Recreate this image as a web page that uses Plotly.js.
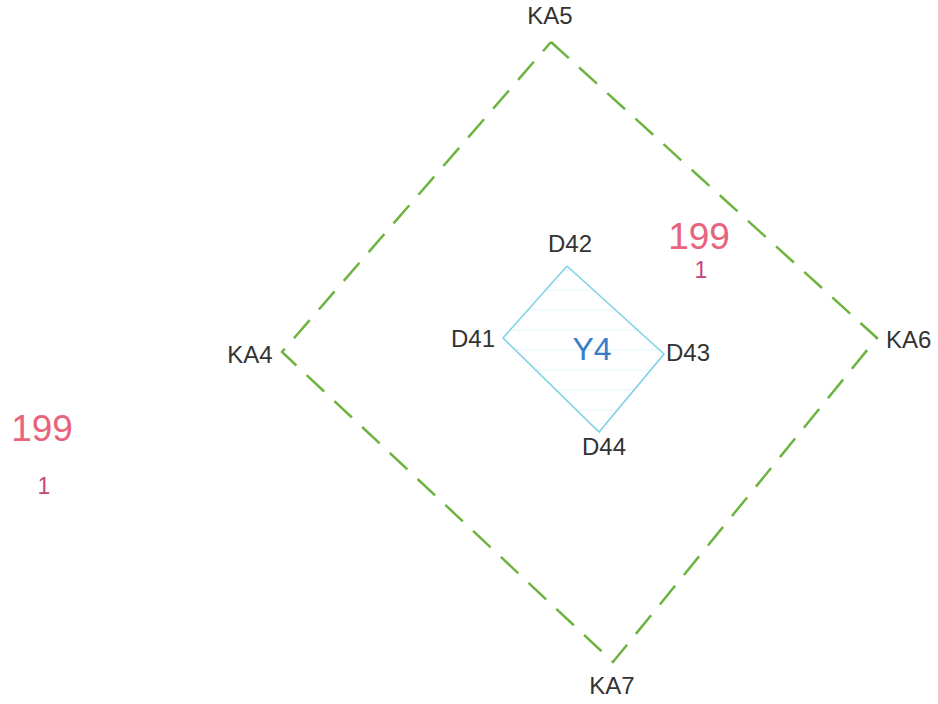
<!DOCTYPE html>
<html><head><meta charset="utf-8">
<script src="https://cdn.plot.ly/plotly-3.0.1.min.js"></script>
<style>html,body{margin:0;padding:0;background:#fff}#plot{width:938px;height:704px}</style>
</head><body><div id="plot"></div>
<script>
// Outer boundary (KA4..KA7), closed
const outerNames = ["KA5", "KA6", "KA7", "KA4"];
const outerX = [551, 877, 613, 282, 551];
const outerY = [42, 338, 662, 352, 42];
// Inner parcel (D41..D44), closed
const innerNames = ["D42", "D43", "D44", "D41"];
const innerX = [567, 664, 599, 503, 567];
const innerY = [266, 354, 432, 338, 266];
// Point labels
const labelText = ["KA5", "KA6", "KA7", "KA4", "D42", "D43", "D44", "D41"];
const labelX = [550, 886, 612, 250, 570, 666, 604, 473];
const labelY = [18, 342, 688, 357, 246, 355, 449, 341];
// Parcel name
const parcelName = ["Y4"];
const parcelX = [592];
const parcelY = [352];
// Lot numbers
const lotNum = ["199", "199"];
const lotX = [699, 42];
const lotY = [240, 432];
const lotSub = ["1", "1"];
const lotSubX = [701, 44];
const lotSubY = [272, 488];

const font = "Arial, 'Liberation Sans', Helvetica, sans-serif";
const traces = [
  {x: outerX, y: outerY, mode: "lines", line: {color: "#6db33f", width: 2.5, dash: "24px,14px"}, hoverinfo: "skip"},
  {x: innerX, y: innerY, mode: "lines", fill: "toself", fillcolor: "rgba(255,255,255,0)",
   fillpattern: {shape: "-", fgcolor: "rgba(170,222,234,0.45)", bgcolor: "rgba(255,255,255,0)", size: 20, solidity: 0.04},
   line: {color: "#7fd3e6", width: 1.6}, hoverinfo: "skip"},
  {x: labelX, y: labelY, text: labelText, mode: "text",
   textposition: labelText.map(t => (t === "KA6" || t === "D43") ? "middle right" : "middle center"),
   textfont: {family: font, size: 24, color: "#333333"}, hoverinfo: "skip"},
  {x: parcelX, y: parcelY, text: parcelName, mode: "text", textposition: "middle center",
   textfont: {family: font, size: 32, color: "#3b7cc6"}, hoverinfo: "skip"},
  {x: lotX, y: lotY, text: lotNum, mode: "text", textposition: "middle center",
   textfont: {family: font, size: 37, color: "#e8637c"}, hoverinfo: "skip"},
  {x: lotSubX, y: lotSubY, text: lotSub, mode: "text", textposition: "middle center",
   textfont: {family: font, size: 23, color: "#c4467a"}, hoverinfo: "skip"}
];

const layout = {
  width: 938, height: 704,
  margin: {l: 0, r: 0, t: 0, b: 0},
  paper_bgcolor: "#ffffff", plot_bgcolor: "#ffffff",
  showlegend: false,
  xaxis: {range: [0, 938], visible: false, fixedrange: true},
  yaxis: {range: [704, 0], visible: false, fixedrange: true}
};
Plotly.newPlot("plot", traces, layout, {staticPlot: true, displayModeBar: false});
</script>
</body></html>
